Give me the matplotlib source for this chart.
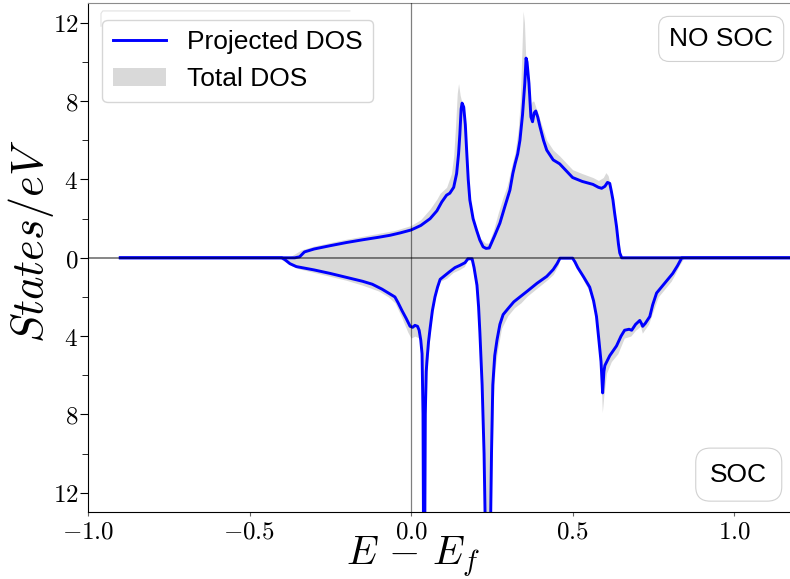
import matplotlib
matplotlib.use("Agg")
import matplotlib.pyplot as plt
from matplotlib.ticker import FixedLocator, FuncFormatter

plt.rcParams['mathtext.fontset'] = 'cm'
plt.rcParams['font.family'] = ['Liberation Sans', 'DejaVu Sans']

# NO SOC (upper half): projected DOS
e_pdos_up = [-0.90, -0.36, -0.345, -0.33, -0.30, -0.25, -0.20, -0.15, -0.10, -0.065, -0.034,
             0.0, 0.03, 0.059, 0.08, 0.095, 0.11, 0.12, 0.132, 0.141, 0.147, 0.151, 0.155,
             0.158, 0.163, 0.168, 0.172, 0.177, 0.182, 0.192, 0.203, 0.213, 0.223, 0.232,
             0.242, 0.258, 0.275, 0.29, 0.306, 0.315, 0.322, 0.330, 0.337, 0.345, 0.352,
             0.356, 0.359, 0.365, 0.371, 0.376, 0.381, 0.386, 0.392, 0.399, 0.41, 0.42,
             0.44, 0.46, 0.50, 0.53, 0.563, 0.58, 0.59, 0.60, 0.608, 0.615, 0.62, 0.625,
             0.63, 0.636, 0.642, 0.646, 0.652, 1.2]
d_pdos_up = [0, 0, 0.05, 0.3, 0.45, 0.62, 0.78, 0.92, 1.05, 1.15, 1.27,
             1.42, 1.65, 2.0, 2.4, 2.85, 3.2, 3.3, 3.6, 4.3, 5.3, 6.3, 7.6,
             7.9, 7.7, 6.8, 5.5, 4.0, 2.95, 2.0, 1.4, 0.9, 0.56, 0.48,
             0.5, 1.1, 1.77, 2.6, 3.46, 4.3, 4.8, 5.3, 6.0, 7.3, 8.9,
             10.2, 10.0, 8.9, 7.2, 6.95, 7.4, 7.5, 7.2, 6.7, 6.0, 5.5,
             5.0, 4.8, 4.1, 3.9, 3.75, 3.6, 3.55, 3.65, 3.85, 3.8, 3.4, 2.95,
             2.3, 1.6, 0.7, 0.25, 0, 0]

# NO SOC (upper half): total DOS
e_tdos_up = [-0.90, -0.385, -0.37, -0.34, -0.30, -0.25, -0.20, -0.15, -0.10, -0.05, 0.0,
             0.03, 0.059, 0.08, 0.09, 0.11, 0.125, 0.132, 0.138, 0.143, 0.147, 0.152,
             0.158, 0.165, 0.172, 0.18, 0.19, 0.20, 0.215, 0.23, 0.24, 0.255, 0.27,
             0.285, 0.298, 0.31, 0.322, 0.332, 0.338, 0.343, 0.347, 0.351, 0.356, 0.362,
             0.368, 0.375, 0.38, 0.388, 0.40, 0.42, 0.44, 0.46, 0.50, 0.53, 0.563, 0.58,
             0.595, 0.603, 0.61, 0.618, 0.625, 0.632, 0.64, 0.648, 0.655, 1.2]
d_tdos_up = [0, 0, 0.1, 0.4, 0.6, 0.78, 0.95, 1.1, 1.25, 1.4, 1.65,
             1.95, 2.5, 3.0, 3.3, 3.6, 4.3, 5.2, 6.8, 8.4, 8.9, 8.3,
             7.9, 6.5, 4.8, 3.2, 2.2, 1.6, 1.0, 0.75, 0.75, 1.4, 2.3,
             3.1, 3.7, 4.6, 5.4, 6.6, 8.0, 10.5, 12.6, 12.0, 9.8, 8.3,
             7.7, 8.0, 8.0, 7.6, 7.0, 6.0, 5.5, 5.2, 4.5, 4.3, 4.1, 3.95,
             4.1, 4.35, 4.2, 3.6, 3.0, 2.0, 0.8, 0.2, 0, 0]

# SOC (lower half, drawn downwards): projected DOS
e_pdos_dn = [-0.90, -0.40, -0.39, -0.375, -0.355, -0.30, -0.25, -0.20, -0.15, -0.12, -0.09,
             -0.07, -0.05, -0.04, -0.028, -0.015, -0.003, 0.005, 0.012, 0.02, 0.025, 0.03,
             0.034, 0.037, 0.039, 0.042, 0.044, 0.047, 0.049, 0.054, 0.059, 0.066, 0.074,
             0.082, 0.09, 0.105, 0.12, 0.136, 0.152, 0.167, 0.176, 0.189, 0.195, 0.204,
             0.209, 0.213, 0.22, 0.226, 0.231, 0.245, 0.249, 0.253, 0.259, 0.266, 0.275,
             0.285, 0.30, 0.318, 0.337, 0.36, 0.39, 0.42, 0.44, 0.452, 0.461, 0.50, 0.507,
             0.516, 0.535, 0.553, 0.565, 0.574, 0.582, 0.588, 0.593, 0.597, 0.60, 0.615,
             0.636, 0.65, 0.661, 0.675, 0.683, 0.695, 0.708, 0.713, 0.717, 0.725, 0.739,
             0.748, 0.76, 0.78, 0.80, 0.81, 0.825, 0.838, 1.2]
d_pdos_dn = [0, 0, 0.1, 0.3, 0.45, 0.62, 0.8, 1.0, 1.2, 1.35, 1.6,
             1.8, 2.0, 2.3, 2.7, 3.1, 3.5, 3.55, 3.45, 3.5, 3.7, 4.2,
             4.9, 8, 16, 16, 8, 5.8, 5.3, 4.3, 3.6, 2.7, 2.0,
             1.5, 1.1, 0.9, 0.7, 0.5, 0.38, 0.25, 0.05, 0.05, 0.5, 1.4,
             2.5, 3.8, 6.5, 10, 15, 15, 10, 6.5, 5.0, 4.2, 3.4,
             2.9, 2.6, 2.25, 2.0, 1.7, 1.3, 0.95, 0.6, 0.3, 0.02, 0.02, 0.2,
             0.5, 1.0, 1.5, 2.2, 3.0, 4.3, 5.3, 6.9, 5.8, 5.5, 5.0,
             4.5, 4.0, 3.7, 3.65, 3.7, 3.4, 3.2, 3.35, 3.5, 3.35, 3.0,
             2.4, 1.8, 1.4, 1.0, 0.8, 0.4, 0, 0]

# SOC (lower half, drawn downwards): total DOS
e_tdos_dn = [-0.90, -0.41, -0.39, -0.37, -0.35, -0.30, -0.25, -0.20, -0.15, -0.10, -0.07,
             -0.05, -0.03, -0.01, 0.0, 0.012, 0.025, 0.032, 0.037, 0.039, 0.043, 0.046,
             0.049, 0.055, 0.062, 0.07, 0.08, 0.09, 0.11, 0.13, 0.15, 0.165, 0.172, 0.18,
             0.19, 0.2, 0.208, 0.215, 0.222, 0.228, 0.232, 0.246, 0.25, 0.255, 0.26, 0.268,
             0.28, 0.30, 0.32, 0.34, 0.36, 0.39, 0.42, 0.44, 0.455, 0.463, 0.505, 0.515,
             0.535, 0.555, 0.57, 0.58, 0.588, 0.592, 0.597, 0.605, 0.62, 0.64, 0.66, 0.68,
             0.695, 0.71, 0.716, 0.722, 0.735, 0.75, 0.765, 0.785, 0.805, 0.815, 0.83,
             0.845, 1.2]
d_tdos_dn = [0, 0, 0.2, 0.4, 0.55, 0.75, 0.95, 1.15, 1.4, 1.7, 2.0,
             2.3, 3.0, 3.8, 4.1, 4.0, 4.1, 5.0, 9, 16, 16, 9,
             6.0, 4.6, 3.4, 2.4, 1.6, 1.2, 1.05, 0.75, 0.6, 0.45, 0.2, 0.05,
             0.3, 1.5, 2.8, 4.6, 7.5, 11, 16, 16, 11, 7.2, 5.7, 4.7,
             3.6, 2.95, 2.55, 2.3, 1.95, 1.55, 1.15, 0.85, 0.4, 0, 0, 0.5,
             1.2, 1.8, 2.9, 4.2, 6.0, 7.9, 7.0, 5.9, 5.3, 4.9, 4.1, 4.0,
             3.7, 3.5, 3.85, 3.7, 3.4, 2.7, 2.0, 1.6, 1.2, 0.9, 0.4,
             0, 0]

xticks = [-1.0, -0.5, 0.0, 0.5, 1.0]
yticks = [-12, -8, -4, 0, 4, 8, 12]

fig = plt.figure(figsize=(7.9, 5.79), dpi=100)
ax = fig.add_axes([0.1114, 0.1152, 0.8886, 0.8791])

gray = '#d9d9d9'
tot = ax.fill_between(e_tdos_up, 0, d_tdos_up, color=gray, lw=0, label='Total DOS')
ax.fill_between(e_tdos_dn, 0, [-v for v in d_tdos_dn], color=gray, lw=0)
proj, = ax.plot(e_pdos_up, d_pdos_up, color='blue', lw=2.1, label='Projected DOS')
ax.plot(e_pdos_dn, [-v for v in d_pdos_dn], color='blue', lw=2.1)

ax.axhline(0, color='k', alpha=0.6, lw=1.1, zorder=5)
ax.axvline(0, color='k', alpha=0.5, lw=0.9, zorder=5)

ax.set_xlim(-1.0, 1.173)
ax.set_ylim(-13, 13)

ax.xaxis.set_major_locator(FixedLocator(xticks))
ax.xaxis.set_major_formatter(FuncFormatter(lambda v, p: r'$%.1f$' % v))
ax.yaxis.set_major_locator(FixedLocator(yticks))
ax.yaxis.set_minor_locator(FixedLocator([-10, -6, -2, 2, 6, 10]))
ax.yaxis.set_major_formatter(FuncFormatter(lambda v, p: r'$%d$' % abs(v)))
ax.tick_params(axis='x', labelsize=18, length=3, color='0.4', pad=2.5)
ax.tick_params(axis='y', which='major', labelsize=18, length=5.5, pad=1.5)
ax.tick_params(axis='y', which='minor', length=4)

ax.spines['right'].set_visible(False)
ax.spines['top'].set_color('0.55')

ax.set_xlabel(r'$E\,-\,E_f$', fontsize=29)
ax.set_ylabel(r'$States/eV$', fontsize=32)
ax.xaxis.set_label_coords(0.463, -0.045)
ax.yaxis.set_label_coords(-0.046, 0.533)

# faint edge peeking out above the legend frame
ax.plot([0.0185, 0.0185, 0.021, 0.373], [0.955, 0.980, 0.985, 0.985],
        transform=ax.transAxes, color='#e2e2e2', lw=0.8, zorder=3)

leg = ax.legend(handles=[proj, tot], loc='upper left', fontsize=19,
                bbox_to_anchor=(0.0015, 0.994))

ax.text(0.902, 0.930, 'NO SOC', transform=ax.transAxes, fontsize=19,
        ha='center', va='center', zorder=6,
        bbox=dict(boxstyle='round,pad=0.4', fc='white', ec='0.82', lw=0.8))
ax.text(0.927, 0.074, 'SOC', transform=ax.transAxes, fontsize=19,
        ha='center', va='center', zorder=6,
        bbox=dict(boxstyle='round,pad=0.55', fc='white', ec='0.82', lw=0.8))

fig.savefig('out.png', dpi=100)
